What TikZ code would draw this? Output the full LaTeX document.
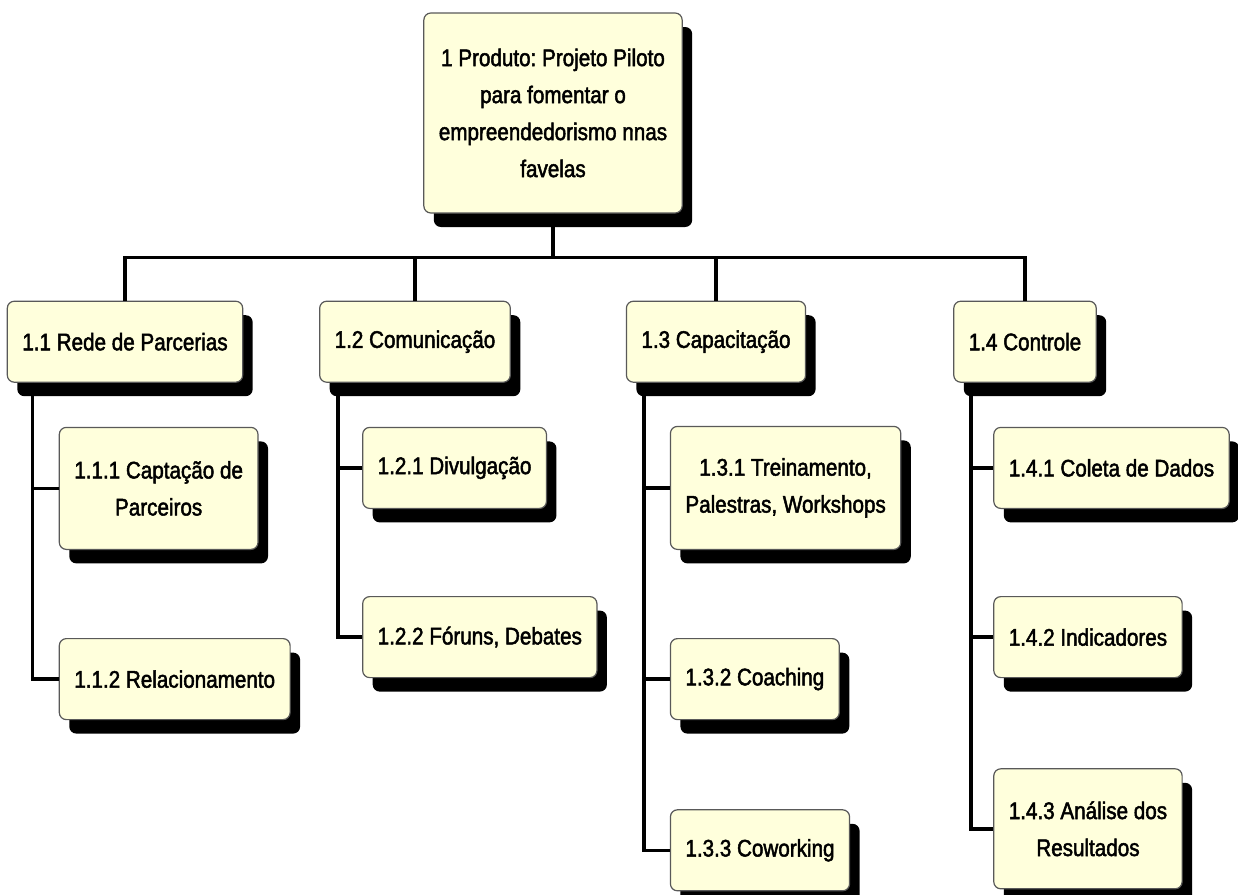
\documentclass[tikz,border=0pt]{standalone}
\usepackage{fontspec}
\setmainfont{Liberation Sans}[FakeStretch=0.86,FakeBold=2]
\frenchspacing
\usetikzlibrary{positioning,shadows}
\definecolor{wbsfill}{RGB}{255,255,220}
\tikzset{
  wbs/.style  = {draw=black!65, line width=1.2pt, rounded corners=7pt, fill=wbsfill,
                 align=center, minimum height=81pt, inner xsep=15pt, inner ysep=4pt,
                 font=\fontsize{24}{37}\selectfont,
                 drop shadow={shadow xshift=10pt, shadow yshift=-14pt, fill=black, opacity=1}},
  link/.style = {line width=3.5pt},
}
\begin{document}
\begin{tikzpicture}
  \useasboundingbox (0,0) rectangle (1238pt,-894pt);
  \node[wbs, minimum height=200pt] (root) at (553pt,-113pt)
    {1 Produto: Projeto Piloto\\para fomentar o\\empreendedorismo nnas\\favelas};
  % first level
  \node[wbs, below=87pt of root, xshift=-428pt] (c11) {1.1 Rede de Parcerias};
  \node[wbs, below=87pt of root, xshift=-138pt] (c12) {1.2 Comunicação};
  \node[wbs, below=87pt of root, xshift=163pt]  (c13) {1.3 Capacitação};
  \node[wbs, below=87pt of root, xshift=472pt]  (c14) {1.4 Controle};
  % work packages
  \node[wbs, below=44pt of c11.south west, anchor=north west, xshift=52pt, minimum height=122pt] (c111) {1.1.1 Captação de\\Parceiros};
  \node[wbs, below=88pt of c111.south west, anchor=north west] (c112) {1.1.2 Relacionamento};
  \node[wbs, below=44pt of c12.south west, anchor=north west, xshift=43pt] (c121) {1.2.1 Divulgação};
  \node[wbs, below=87pt of c121.south west, anchor=north west] (c122) {1.2.2 Fóruns, Debates};
  \node[wbs, below=43pt of c13.south west, anchor=north west, xshift=44pt, minimum height=123pt] (c131) {1.3.1 Treinamento,\\Palestras, Workshops};
  \node[wbs, below=88pt of c131.south west, anchor=north west] (c132) {1.3.2 Coaching};
  \node[wbs, below=89pt of c132.south west, anchor=north west] (c133) {1.3.3 Coworking};
  \node[wbs, below=44pt of c14.south west, anchor=north west, xshift=40pt] (c141) {1.4.1 Coleta de Dados};
  \node[wbs, below=87pt of c141.south west, anchor=north west] (c142) {1.4.2 Indicadores};
  \node[wbs, below=90pt of c142.south west, anchor=north west, minimum height=120pt] (c143) {1.4.3 Análise dos\\Resultados};
  % connectors
  \coordinate[below=44pt of root] (bar);
  \draw[link] (root.south) -- (bar);
  \draw[link] (c11.north) |- (bar) -| (c14.north);
  \draw[link] (c12.north) -- (c12.north |- bar); \draw[link] (c13.north) -- (c13.north |- bar);
  \draw[link] ([xshift=-26pt]c111.west |- c11.south) |- (c112.west);
  \draw[link] ([xshift=-26pt]c111.west) -- (c111.west);
  \draw[link] ([xshift=-24pt]c121.west |- c12.south) |- (c122.west);
  \draw[link] ([xshift=-24pt]c121.west) -- (c121.west);
  \draw[link] ([xshift=-26pt]c131.west |- c13.south) |- (c133.west);
  \draw[link] ([xshift=-26pt]c131.west) -- (c131.west); \draw[link] ([xshift=-26pt]c132.west) -- (c132.west);
  \draw[link] ([xshift=-22pt]c141.west |- c14.south) |- (c143.west);
  \draw[link] ([xshift=-22pt]c141.west) -- (c141.west); \draw[link] ([xshift=-22pt]c142.west) -- (c142.west);
\end{tikzpicture}
\end{document}
